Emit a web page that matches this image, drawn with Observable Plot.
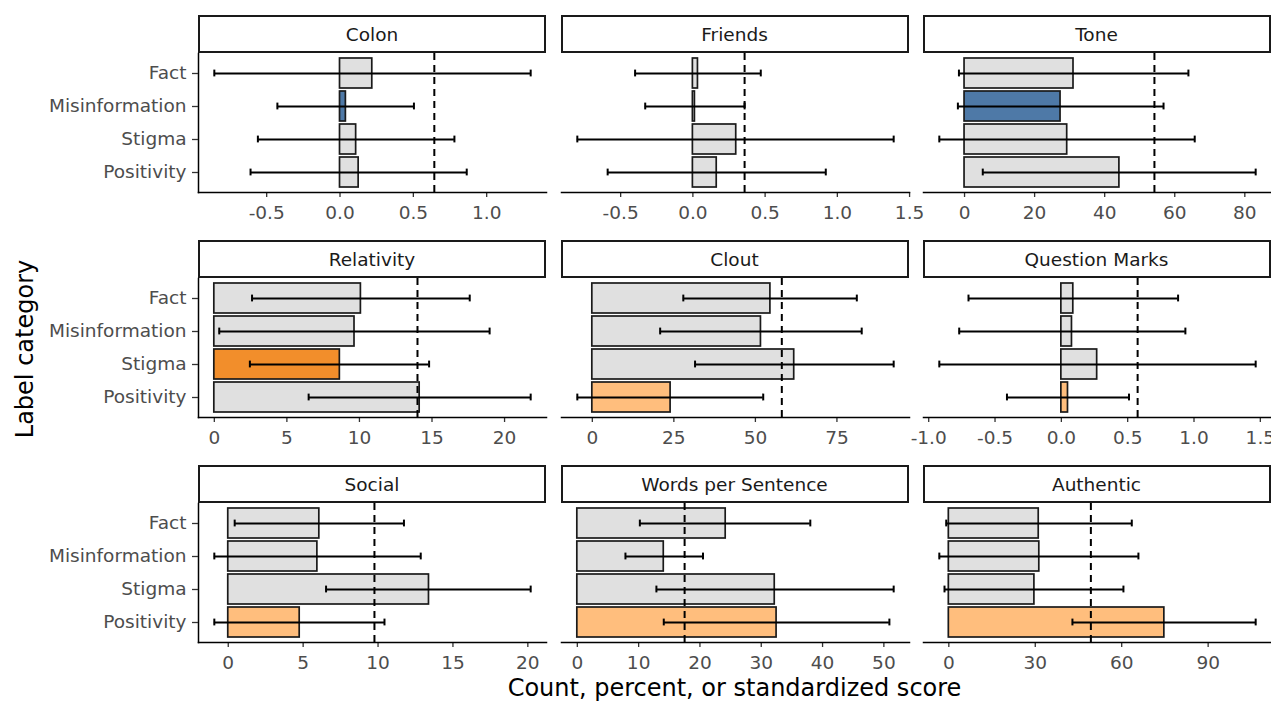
<!DOCTYPE html>
<html><head><meta charset="utf-8">
<script src="https://cdn.jsdelivr.net/npm/d3@7"></script>
<script src="https://cdn.jsdelivr.net/npm/@observablehq/plot@0.6"></script>
<style>
body{margin:0;background:#fff;font-family:"DejaVu Sans",Arial,sans-serif;}
#chart{position:relative;width:1271px;height:703px;overflow:hidden;background:#fff;}
.strip{position:absolute;box-sizing:border-box;border:2px solid #1a1a1a;background:#fff;display:flex;align-items:center;justify-content:center;font-size:18.5px;color:#1a1a1a;}
.panel{position:absolute;}
.title{position:absolute;font-size:24px;color:#000;white-space:nowrap;}
</style></head><body><div id="chart"></div>
<script>
const categories = ["Fact","Misinformation","Stigma","Positivity"];
const facetNames = ["Colon","Friends","Tone","Relativity","Clout","Question Marks","Social","Words per Sentence","Authentic"];
const meanValues = [
  [0.22, 0.04, 0.11, 0.127],
  [0.035, 0.014, 0.30, 0.165],
  [31.1, 27.4, 29.3, 44.2],
  [10.1, 9.66, 8.65, 14.15],
  [54.6, 51.7, 61.9, 24.0],
  [0.09, 0.08, 0.27, 0.05],
  [6.08, 5.95, 13.4, 4.77],
  [24.2, 14.1, 32.2, 32.5],
  [31.2, 31.4, 29.7, 74.8]
];
const lowerValues = [
  [-0.857, -0.427, -0.56, -0.61],
  [-0.40, -0.33, -0.80, -0.59],
  [-1.6, -1.9, -7.2, 5.2],
  [2.6, 0.34, 2.45, 6.5],
  [27.9, 20.8, 31.5, -4.6],
  [-0.70, -0.77, -0.92, -0.41],
  [0.43, -0.93, 6.53, -0.93],
  [10.2, 7.85, 12.9, 14.1],
  [-0.9, -3.3, -1.5, 42.9]
];
const upperValues = [
  [1.30, 0.504, 0.78, 0.864],
  [0.47, 0.358, 1.39, 0.92],
  [63.9, 56.8, 65.7, 83.1],
  [17.6, 18.97, 14.8, 21.8],
  [81.1, 82.6, 92.4, 52.4],
  [0.88, 0.935, 1.465, 0.51],
  [11.73, 12.85, 20.19, 10.43],
  [38.0, 20.5, 51.6, 50.9],
  [63.5, 65.8, 60.6, 106.5]
];
const referenceValues = [0.643, 0.358, 54.2, 14.0, 58.1, 0.575, 9.76, 17.5, 49.3];
const highlightGroups = [
  ["none","lower","none","none"],
  ["none","none","none","none"],
  ["none","lower","none","none"],
  ["none","none","higher","none"],
  ["none","none","none","positive"],
  ["none","none","none","positive"],
  ["none","none","none","positive"],
  ["none","none","none","positive"],
  ["none","none","none","positive"]
];
const tickValues = [
  [-0.5, 0, 0.5, 1.0],
  [-0.5, 0, 0.5, 1.0, 1.5],
  [0, 20, 40, 60, 80],
  [0, 5, 10, 15, 20],
  [0, 25, 50, 75],
  [-1.0, -0.5, 0, 0.5, 1.0, 1.5],
  [0, 5, 10, 15, 20],
  [0, 10, 20, 30, 40, 50],
  [0, 30, 60, 90]
];
const tickDecimals = [1, 1, 0, 0, 0, 1, 0, 0, 0];
const groupColors = {none: "#e0e0e0", lower: "#4e79a7", higher: "#f28e2b", positive: "#ffbe7d"};

const FONT = '"DejaVu Sans", Arial, sans-serif';
const colLeft = [198, 560.5, 922.5];
const panelW = 348;
const rowTop = [15, 240, 465];
const stripH = 38;
const panelH = 139;
const marginBottom = 34;
const capInset = 11.6;

const chart = document.getElementById("chart");

facetNames.forEach((name, i) => {
  const col = i % 3, row = Math.floor(i / 3);
  const rows = categories.map((c, j) => ({
    cat: c, mean: meanValues[i][j], lo: lowerValues[i][j], hi: upperValues[i][j],
    fill: groupColors[highlightGroups[i][j]]
  }));
  const ext = d3.extent([0, referenceValues[i], ...lowerValues[i], ...upperValues[i], ...meanValues[i]]);
  const pad = (ext[1] - ext[0]) * 0.05;
  const ml = col === 0 ? colLeft[0] : 0;
  const fmt = d => d.toFixed(tickDecimals[i]);

  const strip = document.createElement("div");
  strip.className = "strip";
  strip.style.left = colLeft[col] + "px";
  strip.style.top = rowTop[row] + "px";
  strip.style.width = panelW + "px";
  strip.style.height = stripH + "px";
  strip.textContent = name;
  chart.appendChild(strip);

  const plot = Plot.plot({
    width: ml + panelW,
    height: panelH + marginBottom,
    marginTop: 0, marginRight: 0, marginBottom: marginBottom, marginLeft: ml,
    style: {overflow: "visible", fontFamily: FONT, background: "transparent"},
    x: {domain: [ext[0] - pad, ext[1] + pad], axis: null},
    y: {domain: categories, paddingInner: 0.1, paddingOuter: 0.15, axis: null},
    marks: [
      Plot.barX(rows, {y: "cat", x1: 0, x2: "mean", fill: "fill", stroke: "#1a1a1a", strokeWidth: 1.7}),
      Plot.ruleY(rows, {y: "cat", x1: "lo", x2: "hi", stroke: "#000", strokeWidth: 2}),
      Plot.tickX(rows, {y: "cat", x: "lo", insetTop: capInset, insetBottom: capInset, stroke: "#000", strokeWidth: 2}),
      Plot.tickX(rows, {y: "cat", x: "hi", insetTop: capInset, insetBottom: capInset, stroke: "#000", strokeWidth: 2}),
      Plot.ruleX([referenceValues[i]], {stroke: "#000", strokeWidth: 2, strokeDasharray: "7,5"}),
      Plot.axisX({ticks: tickValues[i], tickFormat: fmt, tickSize: 5, tickPadding: 8, fontSize: 18.5, color: "#4d4d4d", stroke: "#333", strokeWidth: 1.3, label: null}),
      Plot.frame({anchor: "bottom", stroke: "#000", strokeWidth: 1.5}),
      col === 0 ? Plot.frame({anchor: "left", stroke: "#000", strokeWidth: 1.5}) : null,
      col === 0 ? Plot.axisY({tickSize: 6, tickPadding: 6, fontSize: 18.5, color: "#4d4d4d", stroke: "#333", strokeWidth: 1.3, label: null}) : null
    ]
  });
  plot.classList.add("panel");
  plot.style.left = (colLeft[col] - ml) + "px";
  plot.style.top = (rowTop[row] + stripH) + "px";
  chart.appendChild(plot);
});

const yTitle = document.createElement("div");
yTitle.className = "title";
yTitle.textContent = "Label category";
yTitle.style.left = "25px";
yTitle.style.top = "349px";
yTitle.style.transform = "translate(-50%,-50%) rotate(-90deg)";
chart.appendChild(yTitle);

const xTitle = document.createElement("div");
xTitle.className = "title";
xTitle.textContent = "Count, percent, or standardized score";
xTitle.style.left = "734.5px";
xTitle.style.top = "688px";
xTitle.style.transform = "translate(-50%,-50%)";
chart.appendChild(xTitle);
</script></body></html>
